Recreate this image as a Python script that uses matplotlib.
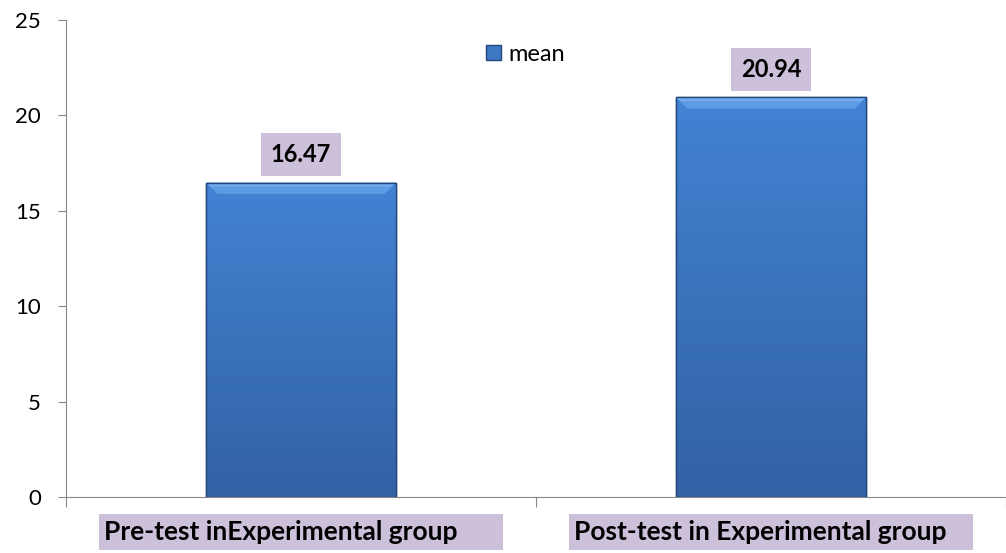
import numpy as np
import matplotlib.pyplot as plt
from matplotlib.patches import Patch, Rectangle
from matplotlib.colors import LinearSegmentedColormap

categories = ['Pre-test inExperimental group', 'Post-test in Experimental group']
means = [16.47, 20.94]
yticks = [0, 5, 10, 15, 20, 25]

plt.rcParams['font.family'] = ['Lato', 'DejaVu Sans']

fig = plt.figure(figsize=(10.06, 5.53), dpi=100)
ax = fig.add_axes([66 / 1006, 56 / 553, 940 / 1006, 477 / 553])

x = np.arange(len(categories))
bars = ax.bar(x, means, width=0.404, color='#4180d0', edgecolor='#24477a', linewidth=1.0, zorder=2)

# vertical gradient inside each bar, plus a lighter bevel at the top
grad = np.linspace(0, 1, 256).reshape(-1, 1)
cmap = LinearSegmentedColormap.from_list('bar', ['#3362a5', '#3a72bb', '#4383d4'])
for b in bars:
    bx, by = b.get_x(), b.get_y()
    w, h = b.get_width(), b.get_height()
    im = ax.imshow(grad, cmap=cmap, aspect='auto', origin='lower',
                   extent=[bx, bx + w, by, by + h], zorder=2.5)
    im.set_clip_path(b)
    top = by + h
    dx, dy = 0.024, 0.58
    ax.fill([bx, bx + w, bx + w - dx, bx + dx], [top, top, top - dy, top - dy],
            color='#5d9be4', zorder=3, linewidth=0)
    ax.fill([bx, bx + w, bx + w - dx * 0.4, bx + dx * 0.4], [top, top, top - dy * 0.35, top - dy * 0.35],
            color='#73acee', zorder=3, linewidth=0)
    ax.bar(b.get_x() + w / 2, h, width=w, fill=False, edgecolor='#24477a', linewidth=1.0, zorder=3.5)

for xi, v in zip(x, means):
    ax.annotate(f'{v:.2f}', (xi, v), xytext=(0, 28), textcoords='offset pixels',
                ha='center', va='center', fontsize=17, fontweight='bold', zorder=4,
                bbox=dict(boxstyle='square,pad=0.42', facecolor='#ccc0da', edgecolor='none'))

ax.set_xlim(-0.5, -0.5 + 940 / 475)
ax.set_ylim(0, 25)
ax.set_yticks(yticks)
ax.set_yticklabels([str(t) for t in yticks], fontsize=16)
ax.set_xticks([-0.5, 0.5, 1.5])
ax.set_xticklabels([])
ax.tick_params(axis='y', length=6, color='#888888', pad=12)
ax.tick_params(axis='x', length=7, color='#888888')

# category labels: wide lavender box, text left-aligned inside
xtr = ax.get_xaxis_transform()
box_w = 0.86
for xi, lab in zip(x, categories):
    ax.add_patch(Rectangle((xi - box_w / 2, -0.111), box_w, 0.076, transform=xtr,
                           facecolor='#ccc0da', edgecolor='none', clip_on=False))
    ax.text(xi - box_w / 2 + 0.01, -0.0735, lab, transform=xtr, ha='left', va='center',
            fontsize=19, fontweight='bold', clip_on=False)

for s in ['top', 'right']:
    ax.spines[s].set_visible(False)
ax.spines['left'].set_color('#888888')
ax.spines['bottom'].set_color('#888888')

ax.legend(handles=[Patch(facecolor='#3d78c4', edgecolor='#24477a', label='mean')],
          loc='center', bbox_to_anchor=(0.489, 0.928), frameon=False, fontsize=17,
          handlelength=0.64, handleheight=0.64, handletextpad=0.3, borderpad=0)

fig.savefig('out.png', dpi=100)
